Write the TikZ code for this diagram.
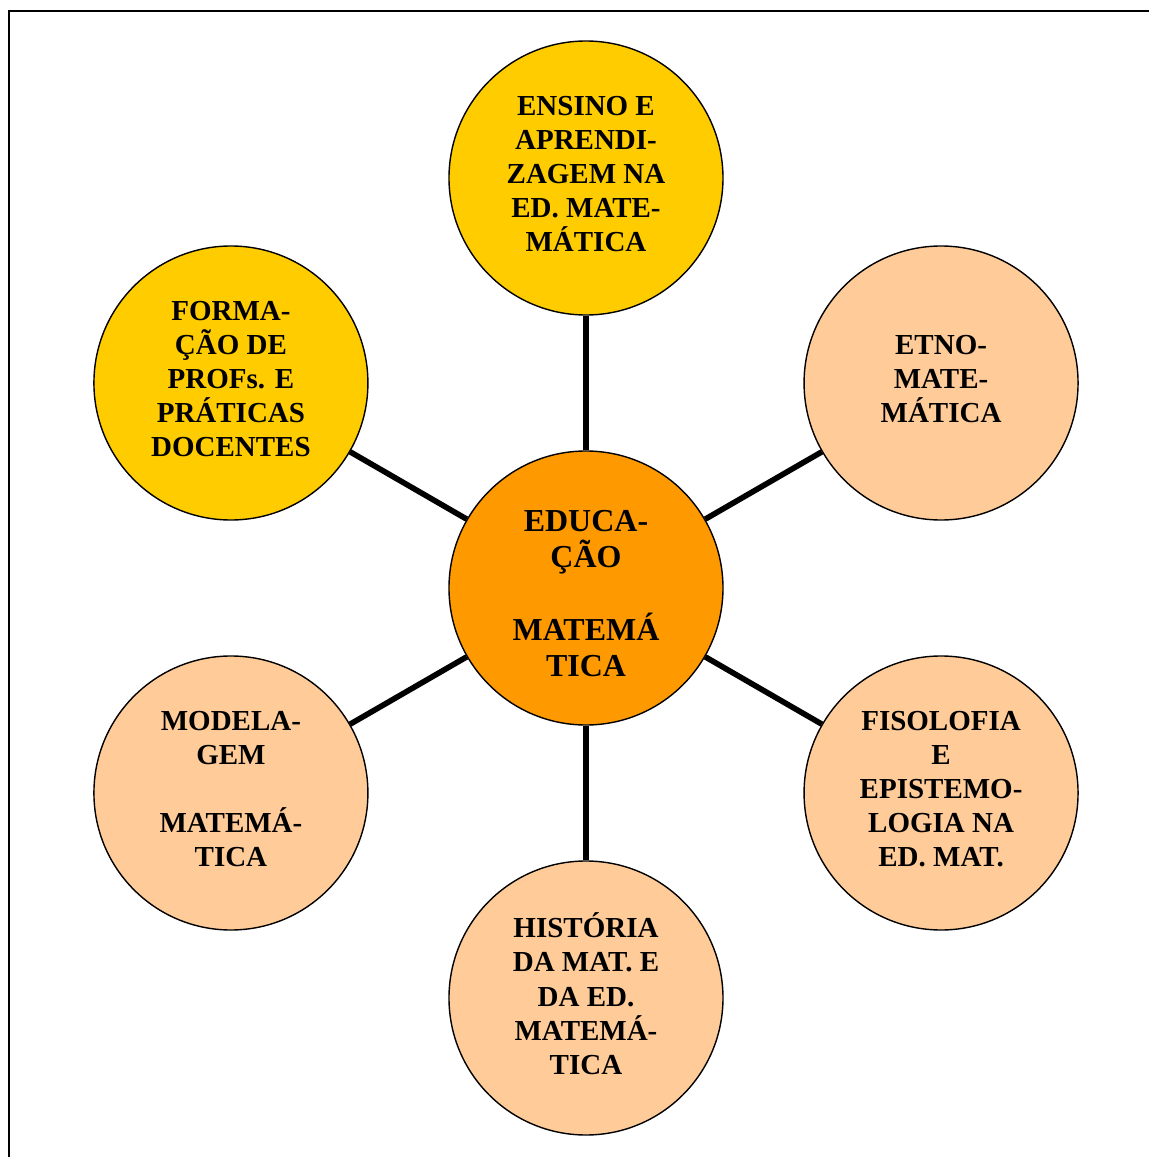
\documentclass[tikz,border=0pt]{standalone}
\usepackage{fontspec}
\setmainfont{Liberation Serif}
\usepackage{xcolor}
\usetikzlibrary{positioning}
\definecolor{coreorange}{HTML}{FF9900}
\definecolor{gold}{HTML}{FFCC00}
\definecolor{peach}{HTML}{FFCC99}
\tikzset{
  lift/.style={execute at end node={\rule[-#1]{0pt}{0pt}}},
  sink/.style={execute at begin node={\rule{0pt}{#1}}},
  bubble/.style={draw, circle, line width=0.8pt, minimum size=5.48cm, inner sep=0pt,
                 align=center},
  topic/.style={bubble, fill=peach, lift=5pt,
                font=\fontsize{16.5}{19.4}\selectfont\bfseries},
  core/.style={bubble, fill=coreorange, sink=101pt,
               font=\fontsize{18.2}{20.6}\selectfont\bfseries},
  link/.style={line width=3.2pt, black},
}

\begin{document}
\begin{tikzpicture}
  \useasboundingbox (-11.72,-11.38) rectangle (11.26,11.76);
  \draw[line width=1.1pt] (-11.54,-13) -- (-11.54,11.54) -- (13,11.54);
  \node[core] (edu) at (0,0) {EDUCA-\\ÇÃO\\~\\MATEMÁ\\TICA};
  \node[topic, fill=gold] (ensino) at (90:8.2) {ENSINO E\\APRENDI-\\ZAGEM NA\\ED. MATE-\\MÁTICA};
  \node[topic, fill=gold] (formacao) at (150:8.2) {FORMA-\\ÇÃO DE\\PROFs. E\\PRÁTICAS\\DOCENTES};
  \node[topic] (etno) at (30:8.2) {ETNO-\\MATE-\\MÁTICA};
  \node[topic] (modelagem) at (210:8.2) {MODELA-\\GEM\\~\\MATEMÁ-\\TICA};
  \node[topic] (filosofia) at (-30:8.2) {FISOLOFIA\\E\\EPISTEMO-\\LOGIA NA\\ED. MAT.};
  \node[topic] (historia) at (-90:8.2) {HISTÓRIA\\DA MAT. E\\DA ED.\\MATEMÁ-\\TICA};
  \foreach \t in {ensino,formacao,etno,modelagem,filosofia,historia}
    \draw[link] (edu) -- (\t);
\end{tikzpicture}
\end{document}
